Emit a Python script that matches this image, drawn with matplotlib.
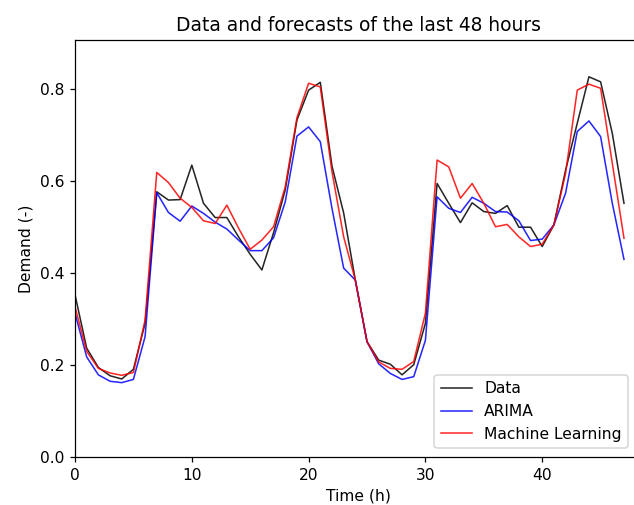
import matplotlib

matplotlib.use("Agg")
import matplotlib.pyplot as plt

hours = list(range(48))

data = [
    0.352, 0.236, 0.194, 0.176, 0.169, 0.190, 0.290, 0.576, 0.558, 0.559,
    0.634, 0.551, 0.520, 0.520, 0.478, 0.440, 0.406, 0.487, 0.580, 0.732,
    0.797, 0.814, 0.632, 0.530, 0.384, 0.250, 0.210, 0.201, 0.178, 0.200,
    0.290, 0.594, 0.551, 0.509, 0.552, 0.533, 0.529, 0.546, 0.499, 0.499,
    0.457, 0.504, 0.623, 0.725, 0.826, 0.815, 0.703, 0.551,
]
arima = [
    0.312, 0.217, 0.178, 0.164, 0.161, 0.168, 0.261, 0.574, 0.531, 0.512,
    0.545, 0.529, 0.510, 0.495, 0.471, 0.448, 0.448, 0.476, 0.554, 0.697,
    0.717, 0.685, 0.540, 0.410, 0.384, 0.250, 0.202, 0.181, 0.168, 0.174,
    0.253, 0.565, 0.540, 0.531, 0.564, 0.551, 0.533, 0.532, 0.513, 0.470,
    0.473, 0.504, 0.573, 0.707, 0.730, 0.696, 0.551, 0.429,
]
machine_learning = [
    0.326, 0.229, 0.192, 0.182, 0.177, 0.183, 0.297, 0.618, 0.596, 0.562,
    0.542, 0.513, 0.507, 0.547, 0.497, 0.451, 0.471, 0.500, 0.587, 0.737,
    0.812, 0.804, 0.620, 0.478, 0.384, 0.250, 0.206, 0.192, 0.190, 0.207,
    0.312, 0.645, 0.630, 0.562, 0.594, 0.551, 0.500, 0.505, 0.478, 0.457,
    0.462, 0.504, 0.616, 0.797, 0.810, 0.801, 0.638, 0.475,
]

DPI = 112


def main():
    fig = plt.figure(figsize=(634 / DPI, 505 / DPI), dpi=DPI)
    # axes run a bit past the right edge, the right spine is cut off
    ax = fig.add_axes([75 / 634, 48.3 / 505, 566.5 / 634, 416.7 / 505])
    ax.spines["right"].set_visible(False)

    ax.plot(hours, data, color="k", linewidth=1.0, alpha=0.85, label="Data")
    ax.plot(hours, arima, color="b", linewidth=1.0, alpha=0.85, label="ARIMA")
    ax.plot(hours, machine_learning, color="r", linewidth=1.0, alpha=0.85,
            label="Machine Learning")

    ax.set_xlim(0, 48.5)
    ax.set_ylim(0, 0.906)
    ax.set_xticks([0, 10, 20, 30, 40])
    ax.set_yticks([0.0, 0.2, 0.4, 0.6, 0.8])
    ax.set_xlabel("Time (h)")
    ax.set_ylabel("Demand (-)")
    ax.set_title("Data and forecasts of the last 48 hours")
    ax.legend(loc="lower right", bbox_to_anchor=(0.976, 0.021), borderaxespad=0)

    fig.savefig("out.png", dpi=DPI)
    plt.close(fig)


if __name__ == "__main__":
    main()
